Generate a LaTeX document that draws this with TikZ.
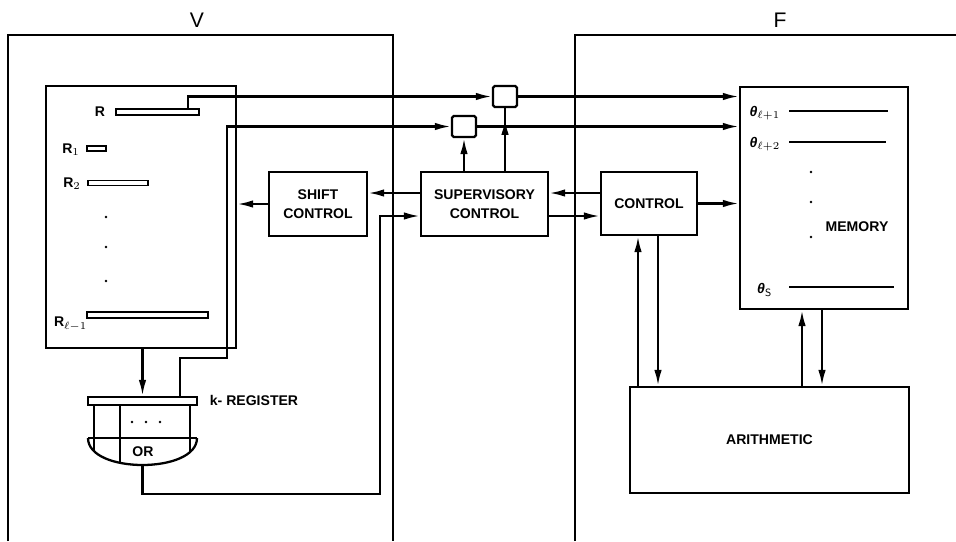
\documentclass[tikz,border=0pt]{standalone}
\usepackage{fontspec}
\setmainfont{Liberation Sans}
\usetikzlibrary{arrows.meta, calc, positioning}

\begin{document}
\begin{tikzpicture}[x=0.02cm, y=-0.02cm, line width=1.3pt,
    box/.style={draw, rectangle, inner sep=0pt, align=center, font=\bfseries\fontsize{8}{11}\selectfont},
    bar/.style={draw, rectangle, inner sep=0pt, line width=1pt, fill=white},
    gate/.style={draw, rectangle, rounded corners=1pt, inner sep=0pt, minimum width=0.48cm, minimum height=0.42cm},
    arr/.style={-{Latex[length=3.2mm,width=1.5mm]}},
    lbl/.style={inner sep=1pt, font=\bfseries\fontsize{8}{10}\selectfont},
    big/.style={font=\fontsize{12}{14}\selectfont}]
    \useasboundingbox (0,0) rectangle (956,541);

    % Frames V and F
    \draw (8,541) -- (8,35) -- (393,35) -- (393,541);
    \draw (575,541) -- (575,35) -- (956,35);
    \node[big] (vlab) at (197,20) {V};
    \node[big] (flab) at (780,20) {F};

    % Registers
    \node[box, minimum width=3.8cm, minimum height=5.24cm] (regs) at (141,217) {};
    \node[bar, minimum width=1.66cm, minimum height=0.12cm] (rbar) at (157.5,112) {};
    \node[bar, minimum width=0.38cm, minimum height=0.1cm] (r1bar) at (96.5,148.5) {};
    \node[bar, minimum width=1.2cm, minimum height=0.1cm] (r2bar) at (118,183) {};
    \node[bar, minimum width=2.42cm, minimum height=0.12cm] (rlbar) at (147.5,315) {};
    \node[lbl] (rlab) at (100,112) {R};
    \node[lbl] (r1lab) at (71,150) {R$_1$};
    \node[lbl] (r2lab) at (72,184) {R$_2$};
    \node[lbl, anchor=east] (rllab) at (90,324) {R$_{\ell-1}$};
    \foreach \y in {217,247,281} {
        \fill (106,\y) circle (1.4);
    }

    % k-register and OR
    \node[bar, line width=1.3pt, minimum width=2.18cm, minimum height=0.16cm] (kreg) at (142.5,401) {};
    \node[lbl, anchor=west] (kregl) at (207,400) {k- REGISTER};
    \draw (94,405) -- (94,451);
    \draw (120,405) -- (120,463);
    \draw (190,405) -- (190,451);
    \draw (88,438) -- (197,438);
    \draw (88,438) .. controls (88,474) and (197,474) .. (197,438);
    \foreach \x in {132,146,160} {
        \fill (\x,422) circle (1.4);
    }
    \node[lbl] (orlab) at (143,452) {OR};
    \coordinate (orbot) at (142.5,465);

    % Gates
    \node[gate] (gate1) at (505,96.5) {};
    \node[gate] (gate2) at (464,126.5) {};

    % Control boxes
    \node[box, minimum width=1.96cm, minimum height=1.28cm] (shift) at (318,204) {SHIFT\\CONTROL};
    \node[box, minimum width=2.54cm, minimum height=1.28cm] (super) at (484.5,204) {SUPERVISORY\\CONTROL};
    \node[box, minimum width=1.92cm, minimum height=1.26cm] (ctrl) at (649,203.5) {CONTROL};
    \node[box, minimum width=5.58cm, minimum height=2.12cm] (arith) at (769.5,440) {ARITHMETIC};

    % Memory
    \node[box, minimum width=3.36cm, minimum height=4.44cm] (mem) at (824,198) {};
    \node[lbl, anchor=east] (t1) at (783,113) {{\itshape θ}$_{\ell+1}$};
    \node[lbl, anchor=east] (t2) at (783,144) {{\itshape θ}$_{\ell+2}$};
    \node[lbl, anchor=east] (ts) at (775,290) {{\itshape θ}$_{\mathsf{S}}$};
    \draw (789,111) -- (888,111);
    \draw (789,142) -- (886,142);
    \draw (789,287) -- (894,287);
    \foreach \y in {172,202,237} {
        \fill (811,\y) circle (1.4);
    }
    \node[lbl] (memlab) at (857,227) {MEMORY};

    % Connections
    \draw[arr] ([xshift=-0.24cm]rbar.north east) |- (gate1.west);
    \coordinate (kup) at (180,358);
    \coordinate (kturn) at (227,358);
    \draw[arr] (kreg.north -| kup) -- (kup) -- (kturn) |- (gate2.west);
    \draw[arr] (gate1.east) -- (gate1.east -| mem.west);
    \draw[arr] (gate2.east) -- (gate2.east -| mem.west);
    \draw[arr] (super.north -| gate2.south) -- (gate2.south);
    \draw (super.north -| gate1.south) -- (gate1.south);
    \draw[arr] (super.north -| gate1.south) -- ++(0,-52);

    \coordinate (sl) at ($(super.west)+(0,-11)$);
    \draw[arr] (sl) -- (sl -| shift.east);
    \draw[arr] (shift.west) -- (shift.west -| regs.east);
    \coordinate (sr) at ($(super.east)+(0,-11)$);
    \draw[arr] (sr -| ctrl.west) -- (sr);
    \coordinate (sr2) at ($(super.east)+(0,12)$);
    \draw[arr] (sr2) -- (sr2 -| ctrl.west);
    \draw[arr] (ctrl.east) -- (ctrl.east -| mem.west);

    \draw[arr] (regs.south -| kreg.north) -- (kreg.north);
    \coordinate (ret) at (380,494);
    \coordinate (sin) at ($(super.west)+(0,12)$);
    \draw[arr] (orbot) |- (ret) |- (sin);

    \coordinate (cu) at ($(ctrl.south)+(-11,0)$);
    \coordinate (cd) at ($(ctrl.south)+(9,0)$);
    \draw[arr] (cu |- arith.north) -- (cu);
    \draw[arr] (cd) -- (cd |- arith.north);
    \coordinate (mu) at ($(mem.south)+(-22,0)$);
    \coordinate (md) at ($(mem.south)+(-2,0)$);
    \draw[arr] (mu |- arith.north) -- (mu);
    \draw[arr] (md) -- (md |- arith.north);
\end{tikzpicture}
\end{document}
